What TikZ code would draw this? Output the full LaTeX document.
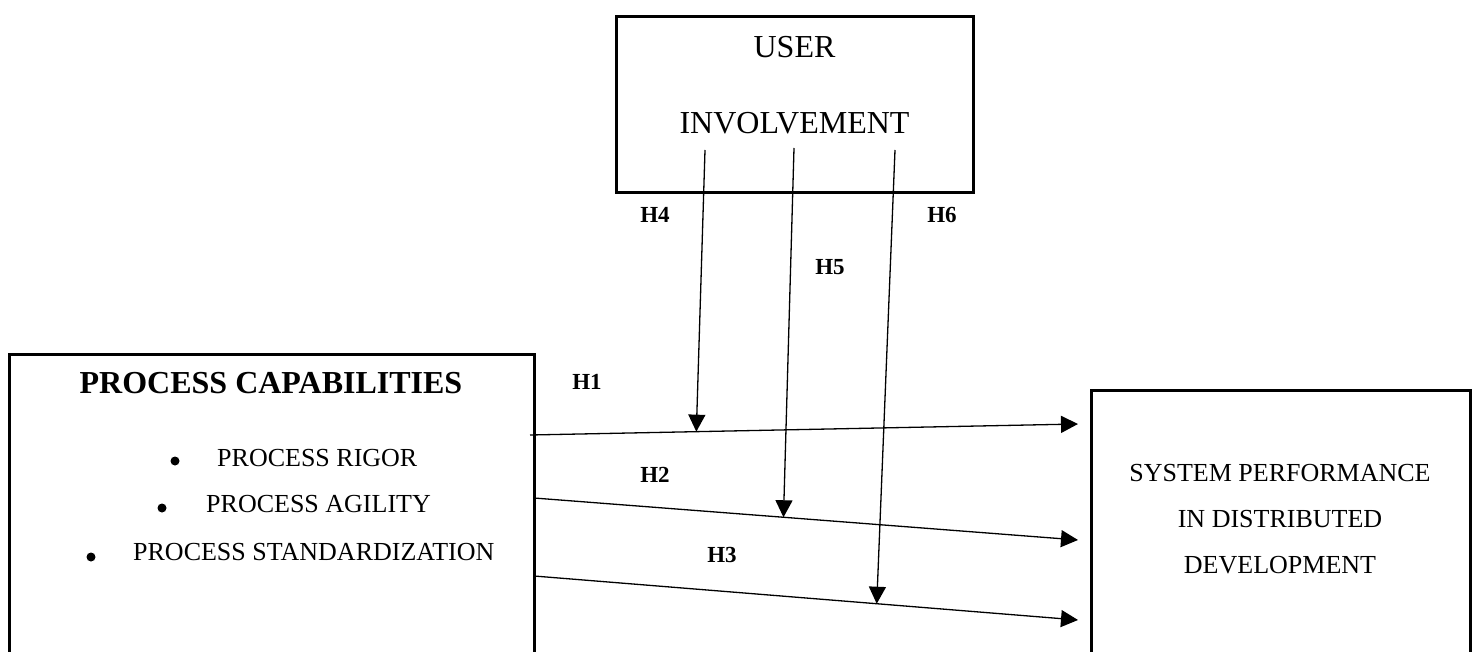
\documentclass[tikz,border=0pt]{standalone}
\usepackage{fontspec}
\setmainfont{Liberation Serif}
\usetikzlibrary{arrows.meta,calc}
\begin{document}
\begin{tikzpicture}[x=1pt,y=-1pt,
  box/.style={draw,line width=3pt,rectangle,inner sep=0pt},
  conn/.style={line width=1.3pt,-{Triangle[length=17pt,width=17pt]}},
  hlab/.style={font=\fontsize{23}{27}\selectfont\bfseries,inner sep=0pt},
  big/.style={font=\fontsize{32}{38}\selectfont,inner sep=0pt},
  item/.style={font=\fontsize{26}{31}\selectfont,inner sep=0pt,anchor=west},
  dot/.style={circle,fill=black,inner sep=0pt,minimum size=9pt}]
\clip (0,0) rectangle (1475,652);
\fill[white] (0,0) rectangle (1475,652);
% boxes
\node[box,minimum width=357pt,minimum height=176pt] (ui) at (794.5,105) {};
\node[box,minimum width=525pt,minimum height=340pt] (pc) at (271.5,524) {};
\node[box,minimum width=379pt,minimum height=320pt] (sp) at (1280.5,550) {};
% user involvement text
\node[big] (t1) at (794.5,47) {USER};
\node[big] (t2) at (794.5,123) {INVOLVEMENT};
% process capabilities text
\node[big,font=\fontsize{32}{38}\selectfont\bfseries] (t3) at (271,383) {PROCESS CAPABILITIES};
\node[dot] (b1) at (175,461) {};
\node[item] (i1) at (217,458) {PROCESS RIGOR};
\node[dot] (b2) at (162,508) {};
\node[item] (i2) at (206,504) {PROCESS AGILITY};
\node[dot] (b3) at (91,557) {};
\node[item] (i3) at (133,552) {PROCESS STANDARDIZATION};
% system performance text
\node[item,anchor=center] (s1) at (1280,473) {SYSTEM PERFORMANCE};
\node[item,anchor=center] (s2) at (1280,519) {IN DISTRIBUTED};
\node[item,anchor=center] (s3) at (1280,565) {DEVELOPMENT};
% hypothesis labels
\node[hlab] (h1) at (587,382) {H1};
\node[hlab] (h2) at (655,475) {H2};
\node[hlab] (h3) at (722,555) {H3};
\node[hlab] (h4) at (655,215) {H4};
\node[hlab] (h5) at (830,267) {H5};
\node[hlab] (h6) at (942,215) {H6};
% connector endpoints
\coordinate (h1s) at (530,435);
\coordinate (h1e) at (1078,424);
\coordinate (h2s) at (534,498);
\coordinate (h2e) at (1078,540);
\coordinate (h3s) at (534,576);
\coordinate (h3e) at (1078,620);
\coordinate (v4s) at (705,150);
\coordinate (v5s) at (794,148);
\coordinate (v6s) at (895,150);
\coordinate (v4e) at ($(h1s)!0.3035!(h1e)$);
\coordinate (v5e) at ($(h2s)!0.4586!(h2e)$);
\coordinate (v6e) at ($(h3s)!0.630!(h3e)$);
% connectors
\draw[conn] (h1s) -- (h1e);
\draw[conn] (h2s) -- (h2e);
\draw[conn] (h3s) -- (h3e);
\draw[conn] (v4s) -- (v4e);
\draw[conn] (v5s) -- (v5e);
\draw[conn] (v6s) -- (v6e);
\end{tikzpicture}
\end{document}
